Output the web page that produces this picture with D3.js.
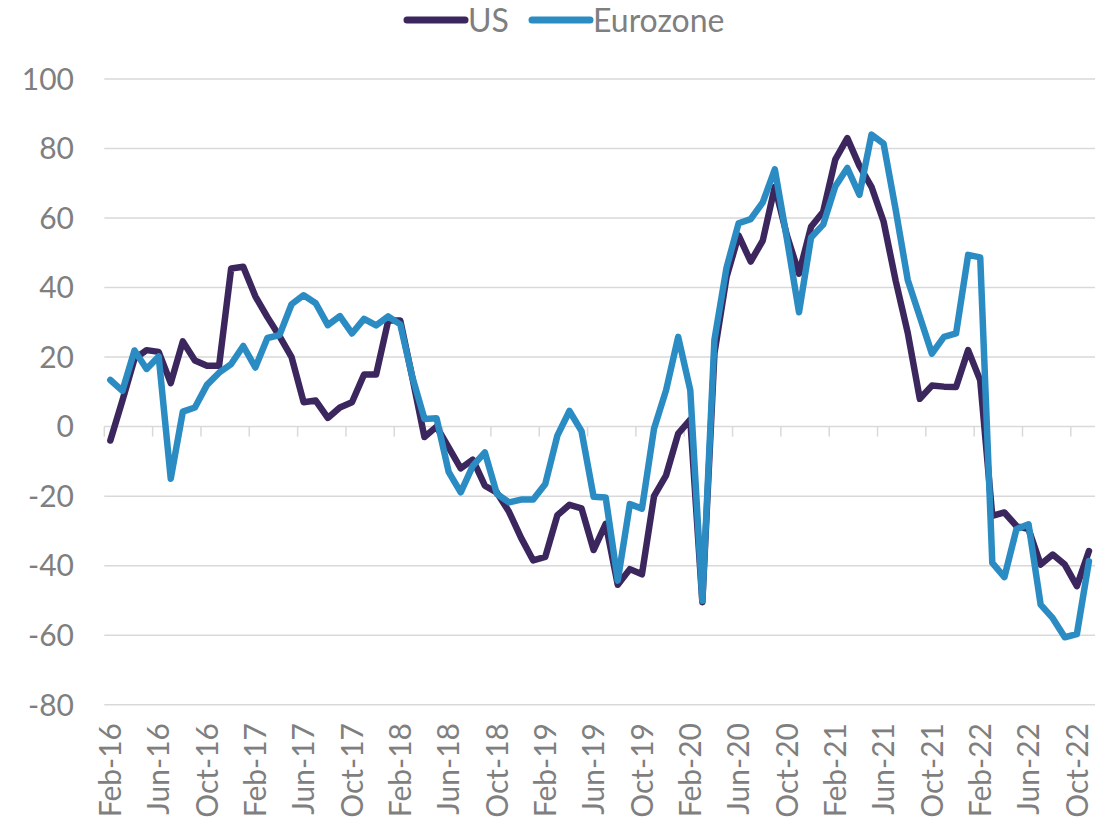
<!DOCTYPE html>
<html lang="en">
<head>
    <meta charset="UTF-8">
    <title>US vs Eurozone</title>
    <script src="https://d3js.org/d3.v7.min.js"></script>
    <style>
        body {
            margin: 0;
            background-color: #ffffff;
        }

        svg {
            display: block;
            font-family: Lato, "Open Sans", sans-serif;
        }
    </style>
</head>
<body>
    <div id="chart"></div>

    <script>
        // months Feb-16 .. Nov-22
        const categories = d3.timeMonths(new Date(2016, 1, 1), new Date(2022, 11, 1)).map(d3.timeFormat("%b-%y"));

        // label every 4th month
        const tickLabels = categories.filter((d, i) => i % 4 === 0);

        const usValues = [
            -4, 7.5, 19.5, 22, 21.5, 12.5, 24.5, 19, 17.5, 17.5,
            45.5, 46, 37.5, 31.5, 26, 20, 7, 7.5, 2.5, 5.5,
            7, 15, 15, 30.5, 30.5, 14, -3, 0, -6, -12,
            -9.5, -17, -19, -24.5, -32, -38.5, -37.5, -25.5, -22.5, -23.5,
            -35.5, -28, -45.5, -41, -42.5, -20, -14, -2, 2, -50.5,
            21, 43, 55, 47.5, 53.5, 69, 55, 44, 57.5, 61.8,
            76.8, 83, 75, 69, 59, 42, 27, 8, 11.8, 11.5,
            11.4, 22, 13.3, -25.7, -24.7, -28.6, -29.5, -39.7, -36.8, -39.7,
            -45.9, -35.8
        ];

        const ezValues = [
            13.4, 10.3, 21.9, 16.6, 20.2, -15, 4.3, 5.5, 12, 15.5,
            18, 23.2, 17, 25.5, 26.3, 35.2, 37.8, 35.5, 29.2, 31.8,
            26.8, 31, 29.1, 31.7, 29.4, 14.2, 2.2, 2.4, -13, -18.9,
            -11.3, -7.4, -19.4, -21.8, -21, -21, -16.5, -2.6, 4.5, -1.3,
            -20.2, -20.4, -44.3, -22.3, -23.6, -0.6, 10.5, 25.8, 10.5, -50.1,
            25, 45.7, 58.5, 59.7, 64.5, 74, 54, 32.9, 54.4, 58.1,
            69.1, 74.4, 66.7, 84, 81.4, 62.4, 42.2, 31.6, 21, 25.8,
            26.8, 49.4, 48.7, -39.2, -43.3, -29.5, -28.1, -51.2, -55.1, -60.6,
            -59.7, -38.7
        ];

        const yTicks = [-80, -60, -40, -20, 0, 20, 40, 60, 80, 100];

        const seriesNames = ["US", "Eurozone"];
        const seriesColors = ["#3b275e", "#2b8cc3"];

        const width = 1116;
        const height = 828;
        const margin = { top: 79, right: 21, bottom: 123.3, left: 104.3 };

        const svg = d3.select("#chart")
            .append("svg")
            .attr("width", width)
            .attr("height", height);

        const x = d3.scaleBand()
            .domain(categories)
            .range([margin.left, width - margin.right])
            .padding(0);

        const y = d3.scaleLinear()
            .domain([-80, 100])
            .range([height - margin.bottom, margin.top]);

        // gridlines
        svg.append("g")
            .selectAll("line")
            .data(yTicks)
            .enter()
            .append("line")
            .attr("x1", margin.left)
            .attr("x2", width - margin.right)
            .attr("y1", d => y(d))
            .attr("y2", d => y(d))
            .attr("stroke", "#d9d9d9")
            .attr("stroke-width", 1.5);

        // y labels
        svg.append("g")
            .selectAll("text")
            .data(yTicks)
            .enter()
            .append("text")
            .attr("x", 74)
            .attr("y", d => y(d))
            .attr("dy", "0.36em")
            .attr("text-anchor", "end")
            .attr("fill", "#7f7f7f")
            .style("font-size", "30px")
            .text(d => d);

        // tick marks on the zero line, at band edges every 4 months
        svg.append("g")
            .selectAll("line")
            .data(tickLabels)
            .enter()
            .append("line")
            .attr("x1", d => x(d))
            .attr("x2", d => x(d))
            .attr("y1", y(0))
            .attr("y2", y(0) + 10)
            .attr("stroke", "#d9d9d9")
            .attr("stroke-width", 1.5);

        // x labels, rotated
        svg.append("g")
            .selectAll("text")
            .data(tickLabels)
            .enter()
            .append("text")
            .attr("transform", d => `translate(${x(d) + x.bandwidth() / 2},723) rotate(-90)`)
            .attr("dy", "0.36em")
            .attr("text-anchor", "end")
            .attr("fill", "#7f7f7f")
            .style("font-size", "30px")
            .text(d => d);

        // lines
        const line = d3.line()
            .x((d, i) => x(categories[i]) + x.bandwidth() / 2)
            .y(d => y(d));

        [usValues, ezValues].forEach((values, k) => {
            svg.append("path")
                .datum(values)
                .attr("d", line)
                .attr("fill", "none")
                .attr("stroke", seriesColors[k])
                .attr("stroke-width", 6.5)
                .attr("stroke-linejoin", "round")
                .attr("stroke-linecap", "round");
        });

        // legend
        const legendX = [407, 532];
        const legend = svg.append("g")
            .selectAll("g")
            .data(seriesNames)
            .enter()
            .append("g")
            .attr("transform", (d, i) => `translate(${legendX[i]},20)`);

        legend.append("line")
            .attr("x1", 0)
            .attr("x2", 58)
            .attr("stroke", (d, i) => seriesColors[i])
            .attr("stroke-width", 7)
            .attr("stroke-linecap", "round");

        legend.append("text")
            .attr("x", 61)
            .attr("dy", "0.36em")
            .attr("fill", "#7f7f7f")
            .style("font-size", "32px")
            .text(d => d);
    </script>
</body>
</html>
